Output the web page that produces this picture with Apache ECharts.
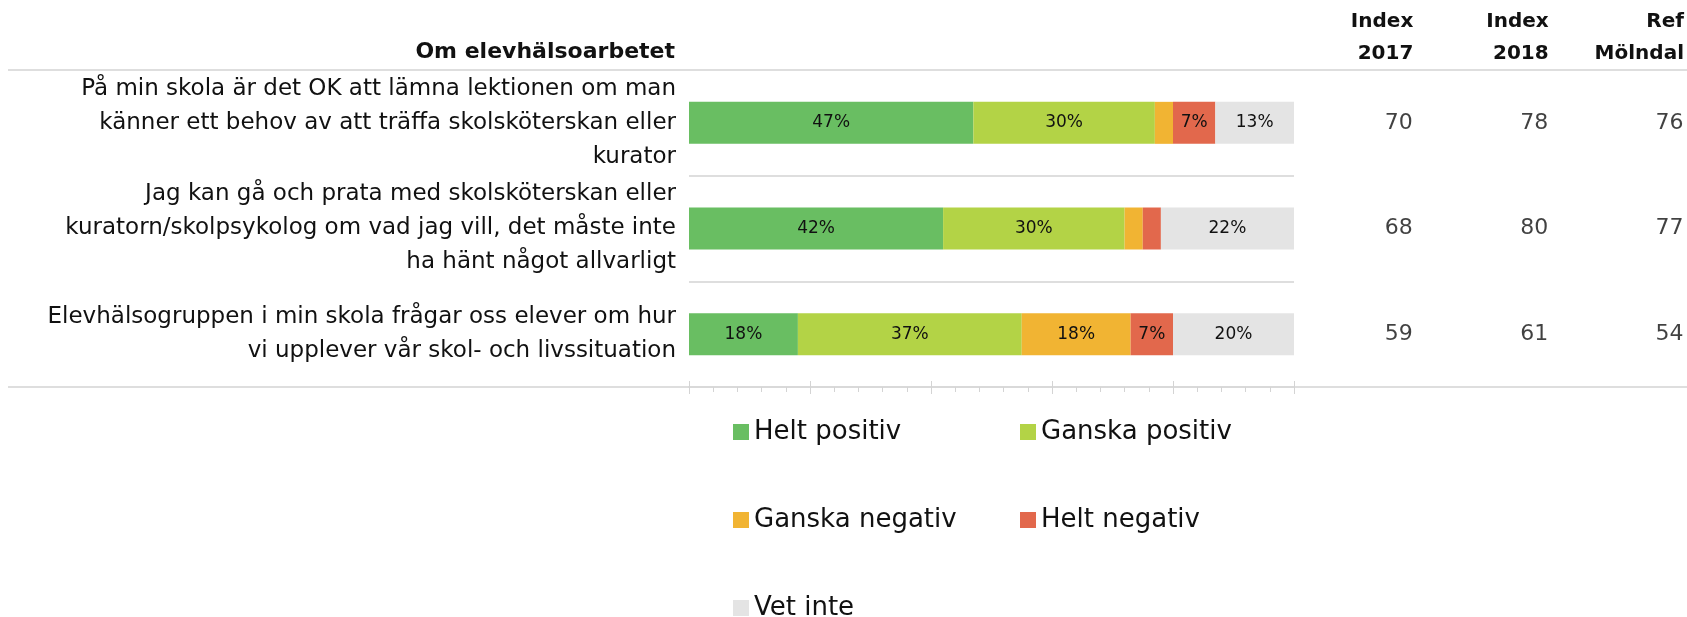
<!DOCTYPE html>
<html>
<head>
<meta charset="utf-8">
<script src="https://cdn.jsdelivr.net/npm/echarts@6/dist/echarts.min.js"></script>
<style>
html,body{margin:0;padding:0;background:#fff;}
#chart{width:1687px;height:617px;}
</style>
</head>
<body>
<div id="chart"></div>
<script>
const categories = [
  "På min skola är det OK att lämna lektionen om man\nkänner ett behov av att träffa skolsköterskan eller\nkurator",
  "Jag kan gå och prata med skolsköterskan eller\nkuratorn/skolpsykolog om vad jag vill, det måste inte\nha hänt något allvarligt",
  "Elevhälsogruppen i min skola frågar oss elever om hur\nvi upplever vår skol- och livssituation"
];
const seriesNames = ["Helt positiv", "Ganska positiv", "Ganska negativ", "Helt negativ", "Vet inte"];
const heltPositiv = [47, 42, 18];
const ganskaPositiv = [30, 30, 37];
const ganskaNegativ = [3, 3, 18];
const heltNegativ = [7, 3, 7];
const vetInte = [13, 22, 20];
const index2017 = [70, 68, 59];
const index2018 = [78, 80, 61];
const refMolndal = [76, 77, 54];
const columnHeaders = ["Index\n2017", "Index\n2018", "Ref\nMölndal"];
const headerTitle = "Om elevhälsoarbetet";
const colors = ["#69be62", "#b3d346", "#f1b433", "#e2684c", "#e4e4e4"];

const FONT = "DejaVu Sans";
const shares = [heltPositiv, ganskaPositiv, ganskaNegativ, heltNegativ, vetInte];

const barSeries = shares.map((arr, k) => ({
  name: seriesNames[k],
  type: 'bar',
  stack: 'total',
  xAxisIndex: 0,
  yAxisIndex: 0,
  barWidth: 42,
  itemStyle: { color: colors[k] },
  label: {
    show: true,
    position: 'inside',
    fontFamily: FONT,
    fontSize: 17,
    color: '#111111',
    formatter: p => (p.value >= 5 ? p.value + '%' : '')
  },
  emphasis: { disabled: true },
  data: arr
}));

const indexCols = [index2017, index2018, refMolndal];
const indexSeries = indexCols.map((arr, c) => ({
  type: 'scatter',
  xAxisIndex: 2,
  yAxisIndex: 1,
  symbolSize: 1,
  itemStyle: { color: 'rgba(0,0,0,0)' },
  label: {
    show: true,
    position: 'left',
    distance: 0,
    fontFamily: FONT,
    fontSize: 22,
    color: '#111111',
    formatter: p => String(p.value[2])
  },
  emphasis: { disabled: true },
  data: arr.map((v, i) => [c + 1, i, v])
}));

const chart = echarts.init(document.getElementById('chart'));
chart.setOption({
  animation: false,
  backgroundColor: '#ffffff',
  grid: [
    { left: 689, width: 605, top: 70, height: 317, containLabel: false },
    { left: 1278, width: 410, top: 70, height: 317, containLabel: false }
  ],
  xAxis: [
    {
      gridIndex: 0, type: 'value', min: 0, max: 100, interval: 20, position: 'bottom',
      axisLine: { show: true, lineStyle: { color: '#d9d9d9', width: 2 } },
      axisTick: { show: true, length: 7, lineStyle: { color: '#d4d4d4', width: 1 } },
      minorTick: { show: true, splitNumber: 5, length: 5, lineStyle: { color: '#d4d4d4', width: 1 } },
      axisLabel: { show: false },
      splitLine: { show: false }
    },
    {
      gridIndex: 0, type: 'value', min: 0, max: 100, interval: 20, position: 'bottom',
      axisLine: { show: false },
      axisTick: { show: true, inside: true, length: 6, lineStyle: { color: '#d4d4d4', width: 1 } },
      axisLabel: { show: false },
      splitLine: { show: false }
    },
    {
      gridIndex: 1, type: 'value', min: 0, max: 3, interval: 1, position: 'top',
      axisLine: { show: false }, axisTick: { show: false }, splitLine: { show: false },
      axisLabel: {
        show: true, showMinLabel: true, showMaxLabel: true,
        align: 'right', margin: 0,
        fontFamily: FONT, fontSize: 20, fontWeight: 'bold', lineHeight: 32, color: '#111111',
        formatter: v => (v >= 1 ? columnHeaders[v - 1] : '')
      }
    }
  ],
  yAxis: [
    {
      gridIndex: 0, type: 'category', inverse: true, data: categories,
      axisLine: { show: false }, axisTick: { show: false },
      splitLine: { show: true, lineStyle: { color: '#dedede', width: 2 } },
      axisLabel: {
        margin: 13, fontFamily: FONT, fontSize: 23, lineHeight: 34, color: '#111111', align: 'right'
      }
    },
    {
      gridIndex: 1, type: 'category', inverse: true, data: categories, show: false
    }
  ],
  legend: {
    data: seriesNames,
    left: 728, top: 414, width: 600,
    orient: 'horizontal',
    icon: 'rect',
    itemWidth: 16, itemHeight: 16, itemGap: 62,
    selectedMode: false,
    textStyle: { fontFamily: FONT, fontSize: 26, lineHeight: 24, color: '#111111', width: 204 }
  },
  graphic: [
    { type: 'line', shape: { x1: 8, y1: 70, x2: 1687, y2: 70 }, style: { stroke: '#dedede', lineWidth: 2 }, z: 0 },
    { type: 'line', shape: { x1: 8, y1: 387, x2: 1687, y2: 387 }, style: { stroke: '#dedede', lineWidth: 2 }, z: 0 },
    { type: 'text', x: 675, y: 52, style: { text: headerTitle, font: 'bold 22px "DejaVu Sans"', fill: '#111111', textAlign: 'right', textVerticalAlign: 'middle' } }
  ],
  series: barSeries.concat(indexSeries)
});
</script>
</body>
</html>
